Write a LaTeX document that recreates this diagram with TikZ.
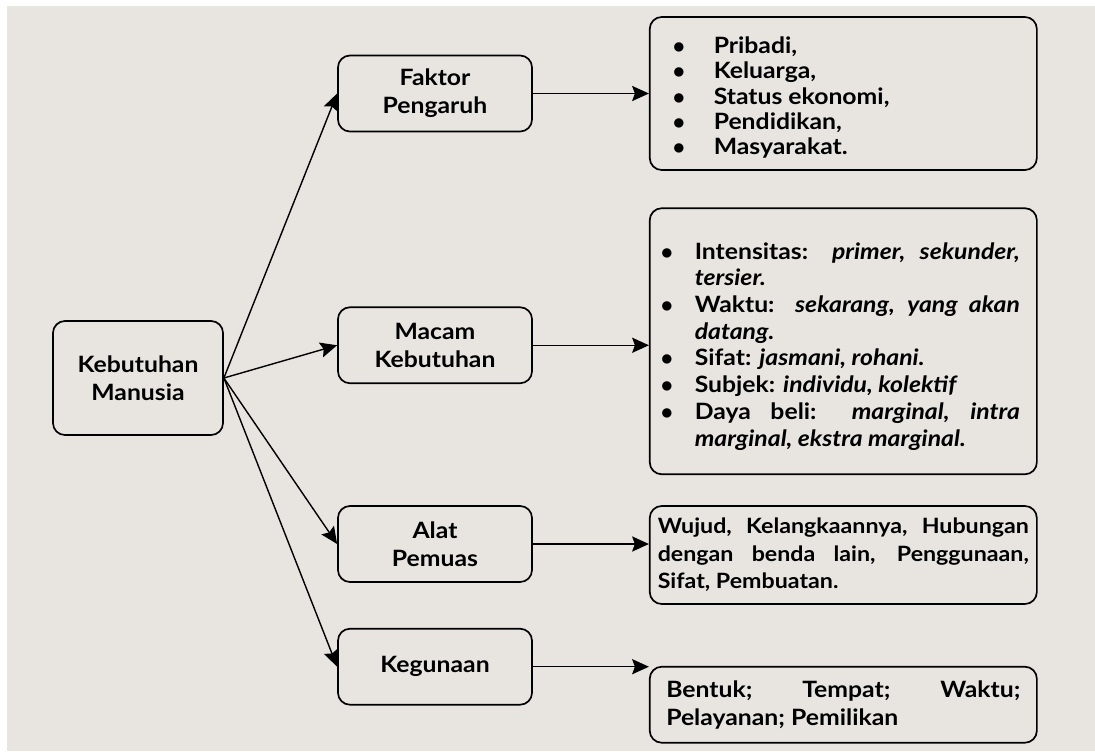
\documentclass[tikz,border=0pt]{standalone}
\usepackage{fontspec}
\setmainfont{Lato}[FakeStretch=1.1]
\usepackage{tikz}
\usetikzlibrary{arrows.meta,positioning}
\definecolor{paper}{RGB}{232,229,224}
\newcommand{\itembullet}[3]{\par\hangindent=#2\hangafter=1\noindent\makebox[#2][l]{\hspace*{#1}$\bullet$}#3\par}
\tikzset{
    box/.style={draw, line width=1.2pt, rounded corners=0.3cm, align=center, inner sep=0pt,
                minimum width=4.85cm, minimum height=1.9cm, font=\bfseries\fontsize{16}{20}\selectfont},
    listbox/.style={draw, line width=1.2pt, rounded corners=0.3cm, align=justify, inner ysep=0pt,
                minimum width=9.675cm, font=\bfseries\fontsize{16}{20}\selectfont},
    link/.style={-{Stealth[length=0.42cm, width=0.38cm, inset=0.07cm]}, line width=1pt}
}

\begin{document}
\begin{tikzpicture}[x=0.025cm, y=-0.025cm]
    \useasboundingbox (0,0) rectangle (1095,751);
    \fill[white] (0,0) rectangle (1095,751);
    \fill[paper] (7,6) rectangle (1095,751);

    \node[box, minimum width=4.25cm, minimum height=2.85cm] (need) at (138,378) {Kebutuhan\\Manusia};
    \node[box] (factor) at (435,93.5) {Faktor\\Pengaruh};
    \node[box, below=4.35cm of factor] (kind) {Macam\\Kebutuhan};
    \node[box, below=3.025cm of kind] (tool) {Alat\\Pemuas};
    \node[box, below=1.125cm of tool] (use) {Kegunaan};

    % lists on the right
    \node[listbox, right=2.9cm of factor, text width=8.825cm, inner xsep=0.425cm, minimum height=3.825cm,
          font=\bfseries\fontsize{16}{18}\selectfont] (factorlist) {%
        \itembullet{0.15cm}{1.175cm}{Pribadi,}
        \itembullet{0.15cm}{1.175cm}{Keluarga,}
        \itembullet{0.15cm}{1.175cm}{Status ekonomi,}
        \itembullet{0.15cm}{1.175cm}{Pendidikan,}
        \itembullet{0.15cm}{1.175cm}{Masyarakat.}};
    \node[listbox, right=2.9cm of kind, yshift=0.1cm, text width=8.825cm, inner xsep=0.425cm,
          minimum height=6.65cm, font=\bfseries\fontsize{16}{19}\selectfont] (kindlist) {%
        \itembullet{-0.15cm}{0.7cm}{Intensitas: \textit{primer, sekunder,}\linebreak\textit{tersier.}}
        \itembullet{-0.15cm}{0.7cm}{Waktu: \textit{sekarang, yang akan}\linebreak\textit{datang.}}
        \itembullet{-0.15cm}{0.7cm}{Sifat: \textit{jasmani, rohani.}}
        \itembullet{-0.15cm}{0.7cm}{Subjek: \textit{individu, kolektif}}
        \itembullet{-0.15cm}{0.7cm}{Daya beli: \textit{marginal, intra}\linebreak\textit{marginal, ekstra marginal.}}};
    \node[listbox, right=2.9cm of tool, yshift=-0.275cm, text width=9.275cm, inner xsep=0.2cm,
          minimum height=2.45cm, font=\bfseries\fontsize{15}{19.5}\selectfont] (toollist)
          {\hyphenpenalty=10000 Wujud, Kelangkaannya, Hubungan\linebreak dengan benda lain, Penggunaan,\linebreak Sifat, Pembuatan.};
    \node[listbox, right=2.9cm of use, yshift=-0.95cm, text width=8.85cm, inner xsep=0.4125cm,
          minimum height=1.9cm] (uselist) {Bentuk; Tempat; Waktu;\linebreak Pelayanan; Pemilikan};

    \draw[link] (need.east) -- (factor.west);
    \draw[link] (need.east) -- (kind.west);
    \draw[link] (need.east) -- (tool.west);
    \draw[link] (need.east) -- (use.west);

    \draw[link] (factor.east) -- (factorlist.west);
    \draw[link] (kind.east) -- (kind.east -| kindlist.west);
    \draw[link] (tool.east) -- (tool.east -| toollist.west);
    \draw[link] (use.east) -- (use.east -| uselist.west);
\end{tikzpicture}
\end{document}
